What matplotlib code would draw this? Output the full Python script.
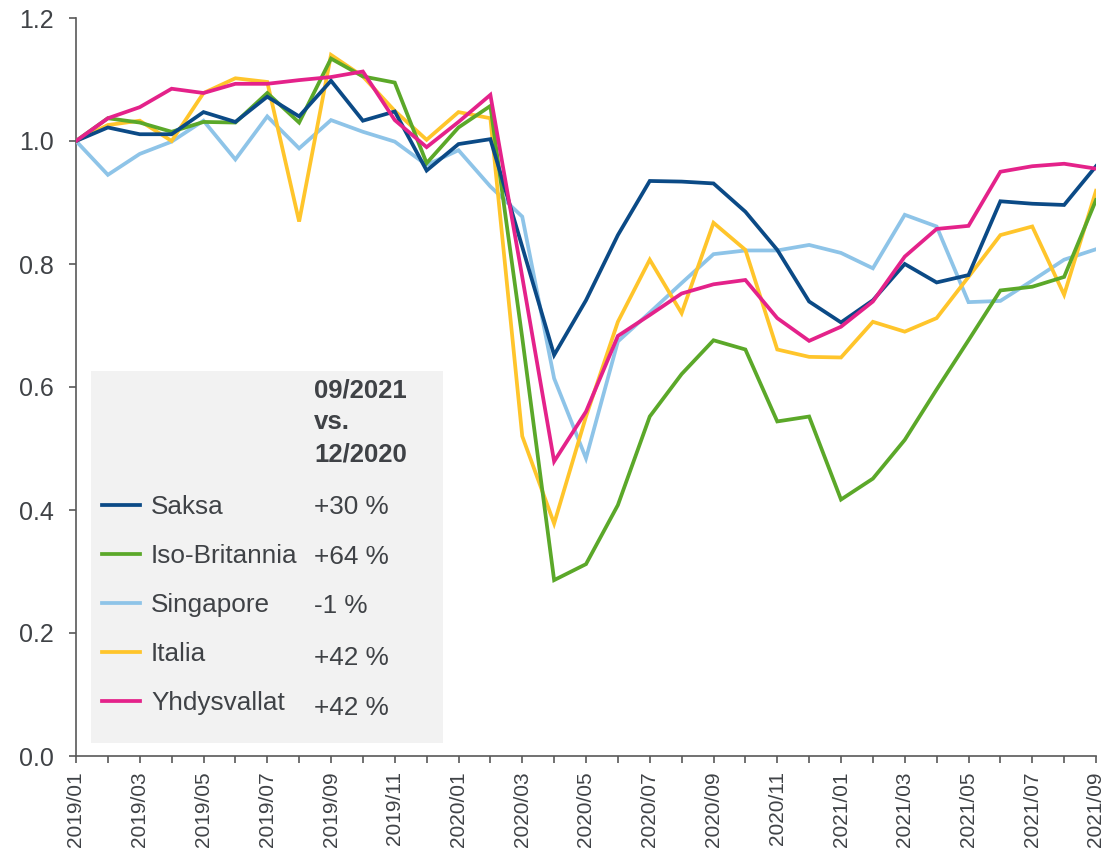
"""Rebuild the monthly index chart (2019/01 = 1.0) for five countries."""

import matplotlib

matplotlib.use("Agg")
import matplotlib.pyplot as plt
from matplotlib.patches import Rectangle
from matplotlib.lines import Line2D

W, H = 1109, 849

months = [f"{y}/{m:02d}" for y in (2019, 2020, 2021) for m in range(1, 13)][:33]

saksa = [1.000, 1.022, 1.011, 1.011, 1.047, 1.031, 1.072, 1.040, 1.098, 1.033,
         1.048, 0.952, 0.995, 1.003, 0.828, 0.652, 0.741, 0.847, 0.935, 0.934,
         0.931, 0.885, 0.823, 0.739, 0.705, 0.741, 0.800, 0.770, 0.782, 0.902,
         0.898, 0.896, 0.959]
iso_britannia = [1.000, 1.037, 1.030, 1.015, 1.031, 1.030, 1.078, 1.030, 1.134, 1.105,
                 1.095, 0.964, 1.022, 1.057, 0.680, 0.286, 0.312, 0.408, 0.552, 0.621,
                 0.676, 0.661, 0.544, 0.552, 0.417, 0.451, 0.514, 0.596, 0.676, 0.757,
                 0.763, 0.779, 0.904]
singapore = [1.000, 0.945, 0.979, 0.999, 1.033, 0.970, 1.040, 0.988, 1.034, 1.015,
             0.999, 0.961, 0.985, 0.926, 0.877, 0.614, 0.484, 0.674, 0.721, 0.769,
             0.816, 0.822, 0.822, 0.831, 0.818, 0.793, 0.880, 0.861, 0.738, 0.740,
             0.773, 0.807, 0.824]
italia = [1.000, 1.026, 1.033, 1.000, 1.078, 1.102, 1.096, 0.869, 1.140, 1.105,
          1.049, 1.002, 1.047, 1.037, 0.520, 0.378, 0.552, 0.706, 0.807, 0.720,
          0.867, 0.823, 0.661, 0.649, 0.648, 0.706, 0.690, 0.712, 0.779, 0.847,
          0.861, 0.750, 0.919]
yhdysvallat = [1.000, 1.037, 1.055, 1.085, 1.078, 1.093, 1.093, 1.099, 1.104, 1.113,
               1.034, 0.990, 1.031, 1.075, 0.779, 0.479, 0.560, 0.683, 0.717, 0.752,
               0.767, 0.774, 0.712, 0.675, 0.698, 0.739, 0.812, 0.857, 0.862, 0.950,
               0.959, 0.963, 0.955]

names = ["Saksa", "Iso-Britannia", "Singapore", "Italia", "Yhdysvallat"]
changes = ["+30 %", "+64 %", "-1 %", "+42 %", "+42 %"]
header = ["09/2021", "vs.", "12/2020"]

series = [saksa, iso_britannia, singapore, italia, yhdysvallat]
colors = ["#0B4A86", "#5BA829", "#8EC4E8", "#FFC52B", "#E4228A"]
# draw order: light ones first so the darker lines sit on top
order = [2, 3, 1, 0, 4]

TEXT = "#3F4246"
AXIS = "#595959"

plt.rcParams["font.family"] = ["Liberation Sans", "DejaVu Sans"]

fig = plt.figure(figsize=(W / 100, H / 100), dpi=100)


def fx(px):
    return px / W


def fy(py):
    return 1 - py / H


ax = fig.add_axes([fx(76), fy(756), fx(1096) - fx(76), fy(18) - fy(756)])

x = list(range(len(months)))
for i in order:
    ax.plot(x, series[i], color=colors[i], lw=2.7, solid_joinstyle="miter", zorder=3)

ax.set_xlim(0, len(months) - 1)
ax.set_ylim(0, 1.2)
ax.set_yticks([0.0, 0.2, 0.4, 0.6, 0.8, 1.0, 1.2])
ax.set_yticklabels([f"{v:.1f}" for v in ax.get_yticks()])
ax.set_xticks(x[::2])
ax.set_xticklabels(months[::2], rotation=90)
ax.set_xticks(x[1::2], minor=True)

for side in ("top", "right"):
    ax.spines[side].set_visible(False)
for side in ("left", "bottom"):
    ax.spines[side].set_color(AXIS)
    ax.spines[side].set_linewidth(1.2)

ax.tick_params(axis="y", length=5, width=1.2, color=AXIS, labelcolor=TEXT,
               labelsize=18, pad=11)
ax.tick_params(axis="x", which="both", length=5, width=1.2, color=AXIS,
               labelcolor=TEXT, labelsize=15, pad=6)

# legend panel
fig.patches.append(Rectangle((fx(91), fy(743)), fx(443) - fx(91), fy(371) - fy(743),
                             transform=fig.transFigure, facecolor="#F2F2F2",
                             edgecolor="none", zorder=0))

for txt, base in zip(header, [397, 429, 461]):
    fig.text(fx(314), fy(base), txt, fontsize=18.5, fontweight="bold",
             color=TEXT, va="baseline", ha="left")

row_y = [505, 554, 603, 652, 701]
pct_base = [514, 564, 613, 665, 715]
for i, name in enumerate(names):
    fig.lines.append(Line2D([fx(102), fx(140)], [fy(row_y[i]), fy(row_y[i])],
                            transform=fig.transFigure, color=colors[i], lw=2.7))
    fig.text(fx(151), fy(row_y[i] + 9), name, fontsize=18.8, color=TEXT,
             va="baseline", ha="left")
    fig.text(fx(314), fy(pct_base[i]), changes[i], fontsize=18.8, color=TEXT,
             va="baseline", ha="left")

fig.savefig("out.png", dpi=100)
